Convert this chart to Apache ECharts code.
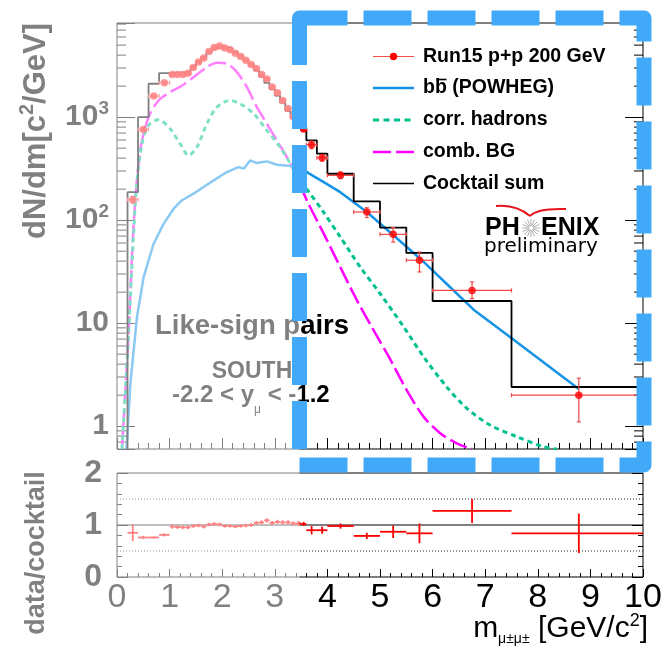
<!DOCTYPE html>
<html><head><meta charset="utf-8">
<script src="https://cdn.jsdelivr.net/npm/echarts@6/dist/echarts.min.js"></script>
<style>html,body{margin:0;padding:0;background:#fff}#c{width:665px;height:649px}</style>
</head><body><div id="c"></div>
<script>
// ---------------- data ----------------
const binEdges = [0.2,0.4,0.6,0.8,1.0,1.1,1.2,1.3,1.4,1.5,1.6,1.7,1.8,1.9,2.0,2.1,2.2,2.3,2.4,2.5,2.6,2.7,2.8,2.9,3.0,3.1,3.2,3.3,3.4,3.5,3.6,3.8,4.0,4.5,5.0,5.5,6.0,7.5,10];
const cocktailSum = [187,1000,2110,2670, 2680,2700,2720,2800,3100,3450,3850,4300,4650,4850,4800,4600,4300,3950,3600,3250,2850,2480,2150,1880,1620,1380,1150,980,840, 743,594,442,282,152,84.6,48,16.4,2.4];
const dataMass = [0.3,0.5,0.7,0.9, 1.05,1.15,1.25,1.35,1.45,1.55,1.65,1.75,1.85,1.95,2.05,2.15,2.25,2.35,2.45,2.55,2.65,2.75,2.85,2.95,3.05,3.15,3.25,3.35,3.45, 3.55,3.7,3.9,4.25,4.75,5.25,5.75,6.75,8.78];
const dataYield = [158,760,1600,2160, 2600,2590,2600,2670,3040,3420,3740,4340,4740,4900,4700,4510,4170,3870,3560,3250,2960,2600,2340,1960,1720,1450,1210,1010,865, 765,540,404,272,120,72.8,40.8,20.8,2.0];
const dataErrLow = [12,25,40,50, 80,80,80,80,90,100,110,120,130,130,130,120,110,110,100,90,90,80,70,60,55,50,45,40,35, 40,46,30,19,14,11.5,9.4,3.5,0.9];
const dataErrHigh = [12,25,40,50, 80,80,80,80,90,100,110,120,130,130,130,120,110,110,100,90,90,80,70,60,55,50,45,40,35, 40,45,28,21,12,11.8,8.2,4.3,0.92];
const ratio = [0.85,0.76,0.76,0.81, 0.97,0.96,0.955,0.955,0.98,0.99,0.97,1.01,1.02,1.01,0.98,0.98,0.97,0.98,0.99,1.0,1.04,1.05,1.09,1.04,1.06,1.05,1.05,1.03,1.03, 1.02,0.90,0.90,0.98,0.79,0.87,0.84,1.27,0.84];
const ratioErr = [0.16,0.03,0.02,0.03, 0.04,0.035,0.035,0.035,0.035,0.035,0.035,0.035,0.035,0.035,0.03,0.03,0.03,0.03,0.035,0.035,0.035,0.04,0.04,0.04,0.04,0.04,0.04,0.04,0.045, 0.04,0.08,0.07,0.05,0.06,0.12,0.19,0.23,0.38];
const bbX = [0.18,0.255,0.38,0.506,0.696,0.886,1.076,1.236,1.456,1.646,1.837,2.09,2.31,2.41,2.53,2.66,2.85,3.04,3.295,3.485,3.64,3.93,4.245,4.75,5.26,5.77,6.27,6.78,7.51,8.78];
const bbY = [0.6,2.6,11.5,28,59,92,129,156,181,210,243,293,327,316,380,358,372,345,335,327,286,234,187,120,71,42,24,13.5,7.1,2.3];
const corrX = [0.095,0.22,0.316,0.37,0.475,0.60,0.79,1.01,1.2,1.36,1.52,1.71,1.90,2.15,2.34,2.60,2.85,3.10,3.295,3.485,3.64,3.9,4.245,4.625,5.0,5.45,5.83,6.27,6.65,7.1,7.6,8.11,8.36];
const corrY = [0.6,7.9,74,210,552,830,944,771,552,425,512,863,1250,1452,1350,1080,743,512,353,243,190,125,68.6,35,19.4,9.2,4.7,2.4,1.49,1.02,0.79,0.63,0.6];
const combX = [0.095,0.22,0.316,0.44,0.60,0.79,1.01,1.24,1.456,1.71,1.90,2.09,2.28,2.47,2.66,2.85,3.04,3.23,3.42,3.61,3.93,4.245,4.56,4.88,5.2,5.51,5.83,6.15,6.46,6.75];
const combY = [0.6,7.9,90,475,1000,1452,1750,2030,2445,3053,3370,3295,2733,1954,1250,863,594,409,262,155,74,35,16.7,8.5,4.4,2.23,1.23,0.85,0.68,0.6];
const logMinorTicks = [0.7,0.8,0.9,2,3,4,5,6,7,8,9,20,30,40,50,60,70,80,90,200,300,400,500,600,700,800,900,2000,3000,4000,5000,6000,7000,8000];
const ratioRefLines = [0.5,1,1.5];
const yTopMin = 0.6, yTopMax = 8200;

// ---------------- chart ----------------
const FONT = '"Liberation Sans", Arial, Helvetica, sans-serif';
const chart = echarts.init(document.getElementById('c'), null, {renderer: 'canvas'});

const histData = [[binEdges[0], yTopMin]];
for (let i = 0; i < cocktailSum.length; i++) {
  histData.push([binEdges[i], cocktailSum[i]]);
  histData.push([binEdges[i + 1], cocktailSum[i]]);
}
const pts = (xs, ys) => xs.map((x, i) => [x, ys[i]]);
const errData = dataMass.map((x, i) => [x, dataYield[i], binEdges[i], binEdges[i + 1], dataYield[i] - dataErrLow[i], dataYield[i] + dataErrHigh[i]]);
const ratioData = dataMass.map((x, i) => [x, ratio[i], binEdges[i], binEdges[i + 1], ratio[i] - ratioErr[i], ratio[i] + ratioErr[i]]);

function errBars(color, width, cap) {
  return function (params, api) {
    const x = api.value(0), y = api.value(1);
    const p = api.coord([x, y]);
    const l = api.coord([api.value(2), y]), r = api.coord([api.value(3), y]);
    const lo = api.coord([x, api.value(4)]), hi = api.coord([x, api.value(5)]);
    const st = {stroke: color, lineWidth: width};
    const ch = [
      {type: 'line', shape: {x1: l[0], y1: p[1], x2: r[0], y2: p[1]}, style: st},
      {type: 'line', shape: {x1: p[0], y1: lo[1], x2: p[0], y2: hi[1]}, style: st}
    ];
    if (cap) {
      ch.push({type: 'line', shape: {x1: p[0] - cap, y1: lo[1], x2: p[0] + cap, y2: lo[1]}, style: st});
      ch.push({type: 'line', shape: {x1: p[0] - cap, y1: hi[1], x2: p[0] + cap, y2: hi[1]}, style: st});
      ch.push({type: 'line', shape: {x1: l[0], y1: p[1] - cap, x2: l[0], y2: p[1] + cap}, style: st});
      ch.push({type: 'line', shape: {x1: r[0], y1: p[1] - cap, x2: r[0], y2: p[1] + cap}, style: st});
    }
    return {type: 'group', children: ch};
  };
}

function labelTop(v) {
  const k = Math.round(Math.log10(v));
  if (Math.abs(Math.log10(v) - k) > 1e-6) return '';
  if (k === 0) return '{b|1}';
  if (k === 1) return '{b|10}';
  if (k >= 2) return '{b|10}{s|' + k + '}';
  return '';
}

const tickBlack = {color: '#000', width: 1};

const option = {
  animation: false,
  backgroundColor: '#fff',
  grid: [
    {left: 117, top: 23, width: 526, height: 426, show: true, borderColor: '#000', borderWidth: 1, backgroundColor: 'transparent'},
    {left: 117, top: 473, width: 526, height: 104, show: true, borderColor: '#000', borderWidth: 1, backgroundColor: 'transparent'}
  ],
  xAxis: [
    {type: 'value', gridIndex: 0, min: 0, max: 10, interval: 1,
     axisLine: {show: false}, axisTick: {inside: true, length: 11, lineStyle: tickBlack},
     minorTick: {show: true, splitNumber: 5, length: 6, lineStyle: tickBlack},
     axisLabel: {show: false}, splitLine: {show: false}, minorSplitLine: {show: false}},
    {type: 'value', gridIndex: 1, min: 0, max: 10, interval: 1,
     axisLine: {show: false}, axisTick: {inside: true, length: 8, lineStyle: tickBlack},
     minorTick: {show: true, splitNumber: 5, length: 4, lineStyle: tickBlack},
     axisLabel: {fontSize: 34, color: '#000', margin: 4, fontFamily: FONT},
     splitLine: {show: false}, minorSplitLine: {show: false}}
  ],
  yAxis: [
    {type: 'log', logBase: 10, gridIndex: 0, min: yTopMin, max: yTopMax,
     axisLine: {show: false}, axisTick: {inside: true, length: 18, lineStyle: tickBlack},
     axisLabel: {formatter: labelTop, margin: 8, color: '#000',
       rich: {b: {fontSize: 30, fontWeight: 'bold', fontFamily: FONT, color: '#000', lineHeight: 36, verticalAlign: 'middle'},
              s: {fontSize: 19, fontWeight: 'bold', fontFamily: FONT, color: '#000', lineHeight: 20, verticalAlign: 'top'}}},
     splitLine: {show: false}},
    {type: 'log', logBase: 10, gridIndex: 0, position: 'right', min: yTopMin, max: yTopMax,
     axisLine: {show: false}, axisTick: {inside: true, length: 18, lineStyle: tickBlack},
     axisLabel: {show: false}, splitLine: {show: false}},
    {type: 'value', gridIndex: 1, min: 0, max: 2, interval: 1,
     axisLine: {show: false}, axisTick: {inside: true, length: 11, lineStyle: tickBlack},
     minorTick: {show: true, splitNumber: 5, length: 5, lineStyle: tickBlack},
     axisLabel: {fontSize: 32, fontWeight: 'bold', fontFamily: FONT, color: '#000', margin: 15},
     splitLine: {show: false}, minorSplitLine: {show: false}},
    {type: 'value', gridIndex: 1, position: 'right', min: 0, max: 2, interval: 1,
     axisLine: {show: false}, axisTick: {inside: true, length: 11, lineStyle: tickBlack},
     minorTick: {show: true, splitNumber: 5, length: 5, lineStyle: tickBlack},
     axisLabel: {show: false}, splitLine: {show: false}, minorSplitLine: {show: false}}
  ],
  series: [
    {type: 'custom', name: 'logMinor', xAxisIndex: 0, yAxisIndex: 0, silent: true, clip: false,
     data: logMinorTicks.map(v => [0, v]),
     renderItem: function (params, api) {
       const v = api.value(1);
       const pl = api.coord([0, v]), pr = api.coord([10, v]);
       const st = {stroke: '#000', lineWidth: 1};
       return {type: 'group', children: [
         {type: 'line', shape: {x1: pl[0], y1: pl[1], x2: pl[0] + 9, y2: pl[1]}, style: st},
         {type: 'line', shape: {x1: pr[0], y1: pr[1], x2: pr[0] - 9, y2: pr[1]}, style: st}
       ]};
     }},
    {type: 'line', name: 'comb. BG', xAxisIndex: 0, yAxisIndex: 0, data: pts(combX, combY),
     showSymbol: false, smooth: 0.3, lineStyle: {color: '#ff00ff', width: 2.5, type: [18, 5]}, z: 3},
    {type: 'line', name: 'corr. hadrons', xAxisIndex: 0, yAxisIndex: 0, data: pts(corrX, corrY),
     showSymbol: false, smooth: 0.3, lineStyle: {color: '#00c08f', width: 3, type: [5, 4]}, z: 3},
    {type: 'line', name: 'bb (POWHEG)', xAxisIndex: 0, yAxisIndex: 0, data: pts(bbX, bbY),
     showSymbol: false, lineStyle: {color: '#1593e6', width: 2.5}, z: 3},
    {type: 'line', name: 'Cocktail sum', xAxisIndex: 0, yAxisIndex: 0, data: histData,
     showSymbol: false, lineStyle: {color: '#000', width: 1.8}, z: 4},
    {type: 'custom', name: 'dataErr', xAxisIndex: 0, yAxisIndex: 0, data: errData, clip: true,
     renderItem: errBars('#f04848', 1.2, 2), z: 5},
    {type: 'scatter', name: 'Run15 p+p 200 GeV', xAxisIndex: 0, yAxisIndex: 0,
     data: pts(dataMass, dataYield), symbol: 'circle', symbolSize: 7.5,
     itemStyle: {color: '#ff0000'}, z: 6},
    ...ratioRefLines.map(v => ({
      type: 'line', xAxisIndex: 1, yAxisIndex: 2, data: [[0, v], [10, v]], showSymbol: false, silent: true,
      lineStyle: v === 1 ? {color: '#000', width: 1} : {color: '#222', width: 1, type: [1, 2]}, z: 3})),
    {type: 'custom', name: 'ratio', xAxisIndex: 1, yAxisIndex: 2, data: ratioData, clip: true,
     renderItem: errBars('#ff0000', 1.8, 0), z: 5}
  ],
  graphic: []
};

const G = option.graphic;
// axis titles
G.push({type: 'text', x: 36, y: 131, rotation: Math.PI / 2, z: 50,
  style: {text: '{m|dN/dm[c}{s|2}{m|/GeV]}', align: 'center', verticalAlign: 'middle',
    rich: {m: {fontSize: 31, fontWeight: 'bold', fontFamily: FONT, fill: '#000', lineHeight: 38, verticalAlign: 'middle'},
           s: {fontSize: 20, fontWeight: 'bold', fontFamily: FONT, fill: '#000', lineHeight: 20, verticalAlign: 'top'}}}});
G.push({type: 'text', x: 37, y: 553, rotation: Math.PI / 2, z: 50,
  style: {text: 'data/cocktail', align: 'center', verticalAlign: 'middle', fontSize: 27, fontWeight: 'bold', fontFamily: FONT, fill: '#000'}});
G.push({type: 'text', x: 648, y: 629, z: 50,
  style: {text: '{m|m}{u|μ±μ±}{m| [GeV/c}{p|2}{m|]}', align: 'right', verticalAlign: 'middle',
    rich: {m: {fontSize: 30, fontFamily: FONT, fill: '#000', lineHeight: 34, verticalAlign: 'middle'},
           u: {fontSize: 14, fontFamily: FONT, fill: '#000', lineHeight: 13, verticalAlign: 'bottom'},
           p: {fontSize: 18, fontFamily: FONT, fill: '#000', lineHeight: 20, verticalAlign: 'top'}}}});
// annotations
G.push({type: 'text', x: 155, y: 326, z: 90,
  style: {text: 'Like-sign pairs', align: 'left', verticalAlign: 'middle', fontSize: 27.5, fontWeight: 'bold', fontFamily: FONT, fill: '#000'}});
G.push({type: 'text', x: 252, y: 372, z: 90,
  style: {text: 'SOUTH', align: 'center', verticalAlign: 'middle', fontSize: 23, fontWeight: 'bold', fontFamily: FONT, fill: '#000'}});
G.push({type: 'text', x: 172, y: 395.5, z: 90,
  style: {text: '{m|-2.2 < y}{u|μ}{m| < -1.2}', align: 'left', verticalAlign: 'middle',
    rich: {m: {fontSize: 24, fontWeight: 'bold', fontFamily: FONT, fill: '#000', lineHeight: 41, verticalAlign: 'middle'},
           u: {fontSize: 12, fontFamily: FONT, fill: '#000', lineHeight: 12, verticalAlign: 'bottom'}}}});
// legend
const legendRows = [56.5, 88, 120, 152, 183.5];
const legendText = ['Run15 p+p 200 GeV', 'bb (POWHEG)', 'corr. hadrons', 'comb. BG', 'Cocktail sum'];
legendText.forEach((t, i) => {
  G.push({type: 'text', x: 423, y: legendRows[i], z: 90,
    style: {text: t, align: 'left', verticalAlign: 'middle', fontSize: 19.5, fontWeight: 'bold', fontFamily: FONT, fill: '#000'}});
});
G.push({type: 'line', z: 90, shape: {x1: 436.5, y1: 79.5, x2: 446.5, y2: 79.5}, style: {stroke: '#000', lineWidth: 1.6}});
G.push({type: 'line', z: 90, shape: {x1: 373, y1: legendRows[0], x2: 414, y2: legendRows[0]}, style: {stroke: '#f05050', lineWidth: 1.2}});
G.push({type: 'circle', z: 91, shape: {cx: 393.5, cy: legendRows[0], r: 3.7}, style: {fill: '#ff0000'}});
G.push({type: 'line', z: 90, shape: {x1: 373, y1: legendRows[1], x2: 414, y2: legendRows[1]}, style: {stroke: '#1593e6', lineWidth: 2.5}});
G.push({type: 'line', z: 90, shape: {x1: 373, y1: legendRows[2], x2: 414, y2: legendRows[2]}, style: {stroke: '#00c08f', lineWidth: 3, lineDash: [6, 4.5]}});
G.push({type: 'line', z: 90, shape: {x1: 373, y1: legendRows[3], x2: 414, y2: legendRows[3]}, style: {stroke: '#ff00ff', lineWidth: 2.5, lineDash: [18, 5]}});
G.push({type: 'line', z: 90, shape: {x1: 373, y1: legendRows[4], x2: 414, y2: legendRows[4]}, style: {stroke: '#000', lineWidth: 1.5}});
// PHENIX logo
G.push({type: 'text', x: 485, y: 228, z: 90, style: {text: 'PH', align: 'left', verticalAlign: 'middle', fontSize: 25, fontWeight: 'bold', fontFamily: FONT, fill: '#000'}});
G.push({type: 'text', x: 541, y: 228, z: 90, style: {text: 'ENIX', align: 'left', verticalAlign: 'middle', fontSize: 25, fontWeight: 'bold', fontFamily: FONT, fill: '#000'}});
G.push({type: 'text', x: 484, y: 247, z: 90, style: {text: 'preliminary', align: 'left', verticalAlign: 'middle', fontSize: 20, fontFamily: '"DejaVu Sans", sans-serif', fill: '#000'}});
for (let k = 0; k < 16; k++) {
  const a = k * Math.PI / 8;
  G.push({type: 'line', z: 90, shape: {x1: 531 + 2 * Math.cos(a), y1: 228 + 2 * Math.sin(a), x2: 531 + 9 * Math.cos(a), y2: 228 + 9 * Math.sin(a)}, style: {stroke: '#999', lineWidth: 0.8}});
}
G.push({type: 'bezierCurve', z: 90, shape: {x1: 496, y1: 206, cpx1: 516, cpy1: 204, x2: 530, y2: 216}, style: {stroke: '#e8141c', lineWidth: 2, fill: null}});
G.push({type: 'bezierCurve', z: 90, shape: {x1: 530, y1: 216, cpx1: 537, cpy1: 208, x2: 566, y2: 209}, style: {stroke: '#e8141c', lineWidth: 2, fill: null}});
// fade overlay and dashed box
G.push({type: 'rect', z: 100, silent: true, shape: {x: 0, y: 0, width: 299.5, height: 649}, style: {fill: 'rgba(255,255,255,0.5)'}});
G.push({type: 'rect', z: 110, silent: true, shape: {x: 299.5, y: 18, width: 344.5, height: 447},
  style: {fill: null, stroke: '#41a9f7', lineWidth: 15, lineDash: [48, 16], lineJoin: 'round'}});

chart.setOption(option);
</script></body></html>
